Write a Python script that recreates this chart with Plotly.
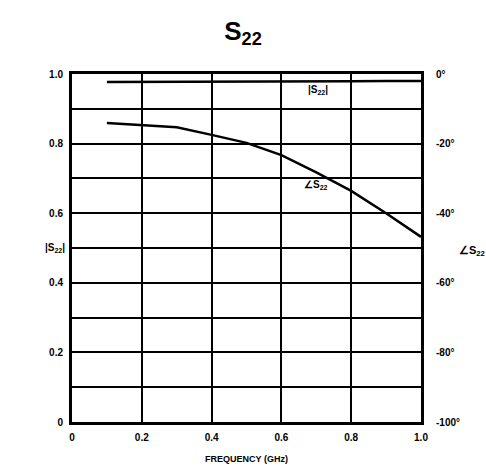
import plotly.graph_objects as go

# Output reflection coefficient S22 versus frequency
freq_ghz = [0.1, 0.2, 0.3, 0.4, 0.5, 0.6, 0.7, 0.8, 0.9, 1.0]
s22_mag = [0.977, 0.977, 0.977, 0.978, 0.978, 0.978, 0.979, 0.979, 0.980, 0.980]
s22_ang = [-14.1, -14.6, -15.3, -17.5, -19.8, -23.3, -28.3, -33.6, -40.0, -46.8]

x_ticks = [0, 0.2, 0.4, 0.6, 0.8, 1.0]
x_ticktext = ["0", "0.2", "0.4", "0.6", "0.8", "1.0"]
mag_ticks = [0, 0.2, 0.4, 0.6, 0.8, 1.0]
mag_ticktext = ["0", "0.2", "0.4", "0.6", "0.8", "1.0"]
ang_ticks = [0, -20, -40, -60, -80, -100]
ang_ticktext = ["0°", "-20°", "-40°", "-60°", "-80°", "-100°"]

FONT = "Liberation Sans, Arial, sans-serif"
tick_font = dict(family=FONT, size=10, color="black", weight="bold")

fig = go.Figure()
fig.add_trace(go.Scatter(x=freq_ghz, y=s22_mag, mode="lines",
                         line=dict(color="black", width=2.5),
                         showlegend=False, hoverinfo="skip"))
fig.add_trace(go.Scatter(x=freq_ghz, y=s22_ang, mode="lines", yaxis="y2",
                         line=dict(color="black", width=2.5),
                         showlegend=False, hoverinfo="skip"))

fig.update_layout(
    width=486, height=474,
    margin=dict(l=72, r=65, t=74, b=52),
    paper_bgcolor="white", plot_bgcolor="white",
    title=dict(text="S<sub>22</sub>", x=0.5, xanchor="center", y=0.935, yanchor="middle",
               font=dict(family=FONT, size=26, color="black", weight="bold")),
    xaxis=dict(range=[0, 1.0], tickvals=x_ticks, ticktext=x_ticktext,
               showgrid=True, gridcolor="black", gridwidth=2,
               showline=True, linecolor="black", linewidth=3, mirror=True,
               zeroline=False, ticks="", ticklabelstandoff=4, tickfont=tick_font,
               title=dict(text="FREQUENCY (GHz)", standoff=14,
                          font=dict(family=FONT, size=9, color="black", weight="bold"))),
    yaxis=dict(range=[0, 1.0], tickvals=mag_ticks, ticktext=mag_ticktext,
               showgrid=True, gridcolor="black", gridwidth=2,
               minor=dict(dtick=0.1, showgrid=True, gridcolor="black", gridwidth=2),
               showline=True, linecolor="black", linewidth=3, mirror=True,
               zeroline=False, ticks="", ticklabelstandoff=4, tickfont=tick_font),
    yaxis2=dict(range=[-100, 0], overlaying="y", side="right",
                tickvals=ang_ticks, ticktext=ang_ticktext,
                showgrid=False, zeroline=False, ticks="", showline=False,
                ticklabelstandoff=14, tickfont=tick_font),
    annotations=[
        dict(text="|S<sub>22</sub>|", x=0.705, y=0.955, xref="x", yref="y",
             showarrow=False, font=dict(family=FONT, size=10, color="black", weight="bold")),
        dict(text="∠S<sub>22</sub>", x=0.70, y=0.68, xref="x", yref="y",
             showarrow=False, font=dict(family=FONT, size=10, color="black", weight="bold")),
        dict(text="|S<sub>22</sub>|", x=-0.05, y=0.5, xref="paper", yref="paper",
             xanchor="center", showarrow=False,
             font=dict(family=FONT, size=10, color="black", weight="bold")),
        dict(text="∠S<sub>22</sub>", x=1.145, y=0.49, xref="paper", yref="paper",
             xanchor="center", showarrow=False,
             font=dict(family=FONT, size=11, color="black", weight="bold")),
    ],
)

fig.write_html("out.html")
